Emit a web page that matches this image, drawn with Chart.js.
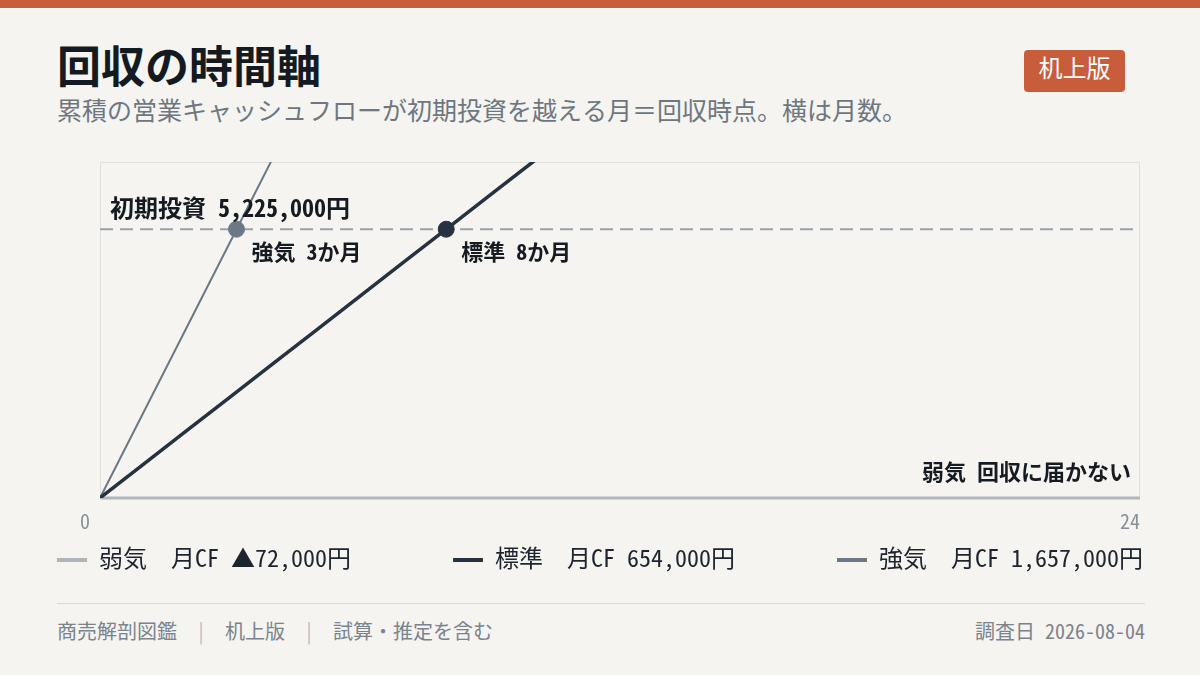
<!DOCTYPE html>
<html lang="ja">
<head>
<meta charset="utf-8">
<script src="https://cdn.jsdelivr.net/npm/chart.js@4.4.1/dist/chart.umd.min.js"></script>
<style>
html,body{margin:0;padding:0;}
body{width:1200px;height:675px;position:relative;overflow:hidden;background:#f5f4f0;
  font-family:'Noto Sans Mono CJK JP','Noto Sans CJK JP',sans-serif;color:#161b22;}
.bar{position:absolute;left:0;top:0;width:1200px;height:8px;background:#c85d3c;}
.title{position:absolute;left:57px;top:42px;font-size:44px;line-height:44px;font-weight:700;color:#141a21;white-space:nowrap;}
.sub{position:absolute;left:57px;top:97px;font-size:25px;line-height:25px;color:#6e7781;white-space:nowrap;}
.badge{position:absolute;left:1024px;top:50px;width:101px;height:34px;padding-bottom:8px;border-radius:4px;background:#c85d3c;
  color:#ffffff;font-size:24px;line-height:34px;font-weight:400;text-align:center;}
.chartwrap{position:absolute;left:0;top:140px;width:1200px;height:400px;}
.legend{position:absolute;left:57px;top:545px;width:1086px;display:flex;justify-content:space-between;align-items:center;}
.item{display:flex;align-items:center;font-size:24px;line-height:24px;color:#1d242d;white-space:pre;}
.swatch{width:30px;height:4px;margin-right:12px;margin-top:6px;}
.rule{position:absolute;left:57px;top:603px;width:1088px;height:1px;background:#d9d8d3;}
.foot{position:absolute;left:57px;top:621px;font-size:20px;line-height:20px;color:#7b838d;white-space:pre;}
.foot .sep{color:#b8bcc2;margin:0 19px;}
.date{position:absolute;right:55px;top:621px;font-size:20px;line-height:20px;color:#7b838d;white-space:pre;}
</style>
</head>
<body>
<div class="bar"></div>
<div class="title">回収の時間軸</div>
<div class="sub">累積の営業キャッシュフローが初期投資を越える月＝回収時点。横は月数。</div>
<div class="badge">机上版</div>
<div class="chartwrap"><canvas id="c"></canvas></div>
<div class="legend" id="legend"></div>
<div class="rule"></div>
<div class="foot">商売解剖図鑑<span class="sep">|</span>机上版<span class="sep">|</span>試算・推定を含む</div>
<div class="date">調査日 2026-08-04</div>

<script>
// ---- data ----
const months = [0,1,2,3,4,5,6,7,8,9,10,11,12,13,14,15,16,17,18,19,20,21,22,23,24];
const seriesNames = ['弱気','標準','強気'];
const monthlyCF = [-72000, 654000, 1657000];
// 累積営業CF（表示値）: 弱気は0円ラインに張り付き回収に届かない
const weakCum = [0,0,0,0,0,0,0,0,0,0,0,0,0,0,0,0,0,0,0,0,0,0,0,0,0];
const standardCum = [0,654000,1308000,1962000,2616000,3270000,3924000,4578000,5232000,5886000,6540000,7194000,7848000,8502000,9156000,9810000,10464000,11118000,11772000,12426000,13080000,13734000,14388000,15042000,15696000];
const strongCum = [0,1657000,3314000,4971000,6628000,8285000,9942000,11599000,13256000,14913000,16570000,18227000,19884000,21541000,23198000,24855000,26512000,28169000,29826000,31483000,33140000,34797000,36454000,38111000,39768000];
const initialInvestment = 5225000;
const paybackNames = ['強気','標準'];
const paybackMonths = [3.15, 7.99];
const paybackLabels = ['強気 3か月','標準 8か月'];
const weakLabel = '弱気 回収に届かない';
const xTicks = [0, 24];
const yMax = 6531250;

const colors = {weak:'#b1b6bc', standard:'#273241', strong:'#6c7886', dash:'#9aa1aa'};
const FONT = '"Noto Sans Mono CJK JP","Noto Sans CJK JP",sans-serif';

function pts(arr){ return months.map((m,i)=>({x:m, y:arr[i]})); }
function yen(v){ return (v<0?'▲':'') + Math.abs(v).toLocaleString('en-US') + '円'; }

// legend (HTML)
const legendColors = [colors.weak, colors.standard, colors.strong];
const lg = document.getElementById('legend');
seriesNames.forEach((n,i)=>{
  const it = document.createElement('div'); it.className='item';
  const sw = document.createElement('span'); sw.className='swatch'; sw.style.background=legendColors[i];
  const tx = document.createElement('span'); tx.textContent = n + '　月CF ' + yen(monthlyCF[i]);
  it.appendChild(sw); it.appendChild(tx); lg.appendChild(it);
});

const annot = {
  id:'annot',
  beforeDatasetsDraw(chart){
    const {ctx, chartArea:a} = chart;
    ctx.save();
    ctx.strokeStyle = '#e1e0db'; ctx.lineWidth = 1;
    ctx.beginPath();
    ctx.moveTo(a.left+0.5, a.bottom); ctx.lineTo(a.left+0.5, a.top+0.5);
    ctx.lineTo(a.right-0.5, a.top+0.5); ctx.lineTo(a.right-0.5, a.bottom);
    ctx.stroke();
    ctx.restore();
  },
  afterDatasetsDraw(chart){
    const {ctx, chartArea:a, scales} = chart;
    const xs = scales.x, ys = scales.y;
    ctx.save();
    ctx.textBaseline = 'alphabetic';
    const yi = ys.getPixelForValue(initialInvestment);
    ctx.fillStyle = '#161b22';
    ctx.font = '700 24px ' + FONT;
    ctx.textAlign = 'left';
    ctx.fillText('初期投資 ' + initialInvestment.toLocaleString('en-US') + '円', a.left + 10, yi - 12);
    ctx.font = '700 22px ' + FONT;
    paybackMonths.forEach((m,i)=>{
      const px = xs.getPixelForValue(m);
      ctx.fillText(paybackLabels[i], px + 15, yi + 31);
    });
    ctx.textAlign = 'right';
    ctx.fillText(weakLabel, a.right - 9, ys.getPixelForValue(0) - 18);
    ctx.font = '400 20px ' + FONT;
    ctx.fillStyle = '#8a9099';
    xTicks.forEach(t=>{
      const px = xs.getPixelForValue(t);
      ctx.textAlign = 'right';
      ctx.fillText(String(t), t === 0 ? px - 10 : px, a.bottom + 31);
    });
    ctx.restore();
  }
};

new Chart(document.getElementById('c'), {
  type:'line',
  data:{
    datasets:[
      {label:'回収点', data: paybackMonths.map(m=>({x:m, y:initialInvestment})), showLine:false,
        pointRadius:8, pointHoverRadius:8, pointBorderWidth:1,
        pointBackgroundColor:[colors.strong, colors.standard], pointBorderColor:[colors.strong, colors.standard]},
      {label:seriesNames[1], data:pts(standardCum), borderColor:colors.standard, borderWidth:3.5, pointRadius:0, tension:0},
      {label:seriesNames[2], data:pts(strongCum), borderColor:colors.strong, borderWidth:2, pointRadius:0, tension:0},
      {label:'初期投資', data:[{x:months[0], y:initialInvestment},{x:months[months.length-1], y:initialInvestment}],
        borderColor:colors.dash, borderWidth:2, borderDash:[13,7], pointRadius:0},
      {label:seriesNames[0], data:pts(weakCum), borderColor:colors.weak, borderWidth:3, pointRadius:0, tension:0, clip:4}
    ]
  },
  options:{
    responsive:true, maintainAspectRatio:false, animation:false,
    layout:{padding:{left:100, right:60, top:22, bottom:42}},
    scales:{
      x:{type:'linear', min:0, max:24, display:false},
      y:{type:'linear', min:0, max:yMax, display:false}
    },
    plugins:{legend:{display:false}, tooltip:{enabled:false}}
  },
  plugins:[annot]
});
</script>
</body>
</html>
